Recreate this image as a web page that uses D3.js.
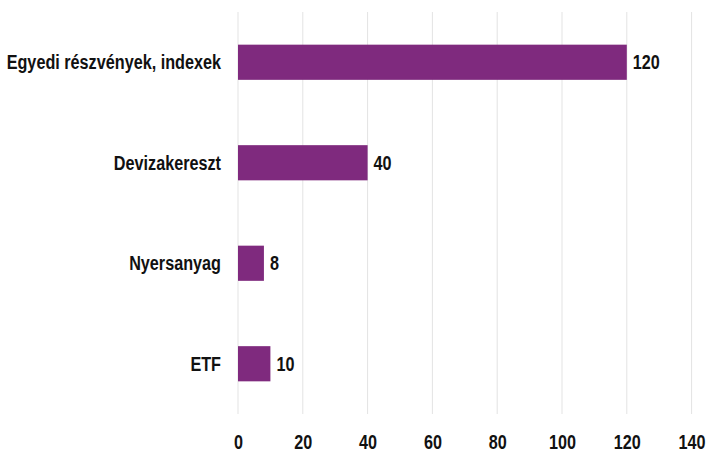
<!DOCTYPE html>
<html>
<head>
<meta charset="utf-8">
<script src="https://cdn.jsdelivr.net/npm/d3@7"></script>
<style>
  body { margin: 0; background: #fff; }
  svg text { font-family: "Liberation Sans", Arial, sans-serif; font-weight: bold; fill: #111; font-size: 20px; }
</style>
</head>
<body>
<svg id="graphe" width="707" height="454"></svg>
<script>
// Données
const categories = ["Egyedi részvények, indexek", "Devizakereszt", "Nyersanyag", "ETF"]
const valeurs = [120, 40, 8, 10]
const graduations = [0, 20, 40, 60, 80, 100, 120, 140]

const svg = d3.select("#graphe")
const marge = {haut: 12, droite: 16, bas: 40, gauche: 238}
const largeur = 707
const hauteur = 454

const x = d3.scaleLinear()
    .domain([0, 140])
    .range([marge.gauche, marge.gauche + 453.6])

const y = d3.scaleBand()
    .domain(categories)
    .range([marge.haut, hauteur - marge.bas])
    .paddingInner(0.65)
    .paddingOuter(0.325)

// Lignes verticales de la grille
svg.append("g")
    .selectAll("line")
    .data(graduations)
    .join("line")
    .attr("x1", d => x(d))
    .attr("x2", d => x(d))
    .attr("y1", marge.haut)
    .attr("y2", hauteur - marge.bas)
    .style("stroke", "#e3e3e3")
    .style("stroke-width", 1)

// Axe horizontal (seulement les étiquettes)
const axeX = svg.append("g")
    .attr("transform", `translate(0, ${hauteur - marge.bas})`)
    .call(d3.axisBottom(x).tickValues(graduations).tickSize(0))
axeX.select(".domain").remove()
axeX.selectAll("text")
    .attr("y", 28)
    .attr("dy", "0.35em")
    .attr("fill", "#111")

// Barres
svg.append("g")
    .selectAll("rect")
    .data(valeurs)
    .join("rect")
    .attr("x", x(0))
    .attr("y", (d, i) => y(categories[i]))
    .attr("width", d => x(d) - x(0))
    .attr("height", y.bandwidth())
    .attr("fill", "#7f2a7e")

// Étiquettes des catégories
svg.append("g")
    .selectAll("text")
    .data(categories)
    .join("text")
    .attr("x", x(0) - 17)
    .attr("y", d => y(d) + y.bandwidth() / 2)
    .attr("dy", "0.35em")
    .attr("text-anchor", "end")
    .text(d => d)

// Valeurs au bout des barres
svg.append("g")
    .selectAll("text")
    .data(valeurs)
    .join("text")
    .attr("x", d => x(d) + 6)
    .attr("y", (d, i) => y(categories[i]) + y.bandwidth() / 2)
    .attr("dy", "0.35em")
    .text(d => d)

// Le texte d'origine est étroit : on le resserre horizontalement
svg.selectAll("text").each(function() {
    const longueur = this.getComputedTextLength()
    d3.select(this)
        .style("font-family", "'Liberation Sans', Arial, sans-serif")
        .style("font-weight", "bold")
        .style("font-size", "20px")
        .attr("textLength", longueur * 0.81)
        .attr("lengthAdjust", "spacingAndGlyphs")
})
</script>
</body>
</html>
